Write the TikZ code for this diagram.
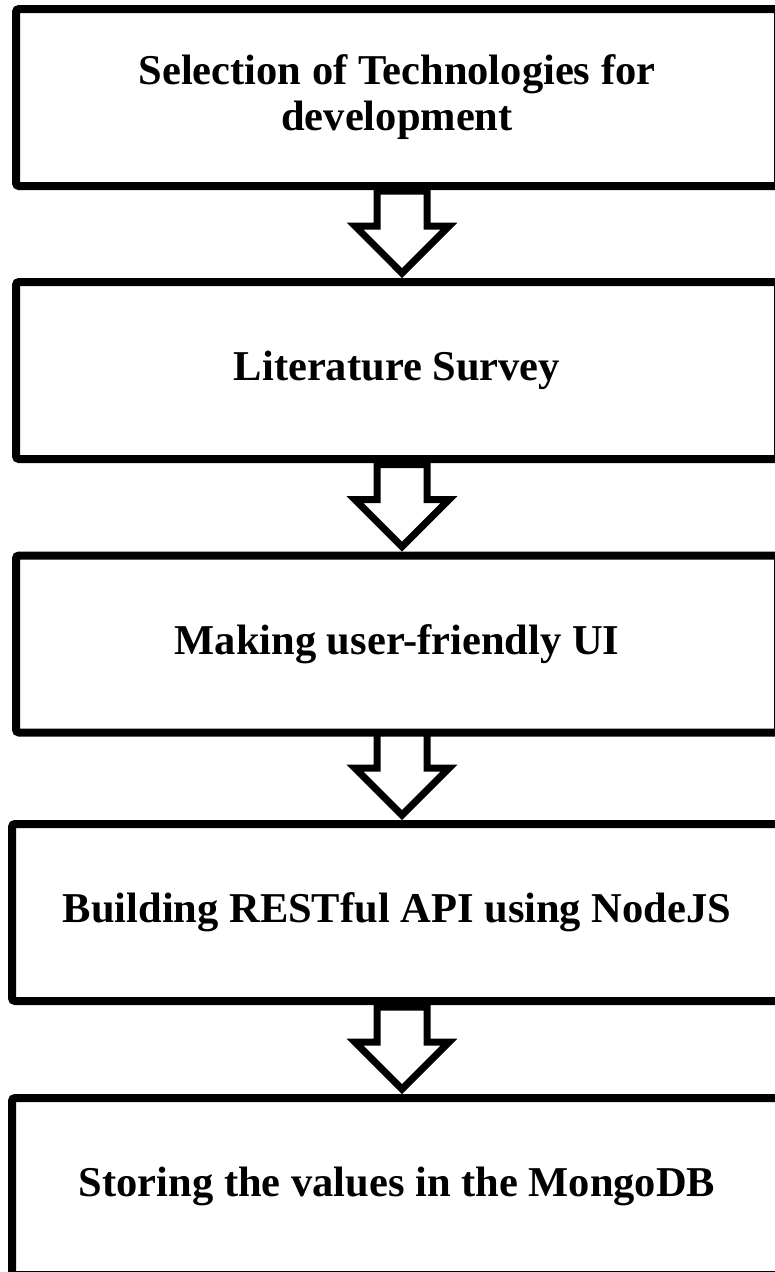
\documentclass[tikz,border=0pt]{standalone}
\usepackage{fontspec}
\setmainfont{Liberation Serif}
\usepackage{tikz}
\usetikzlibrary{shapes.arrows, positioning, calc}

\begin{document}
\begin{tikzpicture}[x=1pt, y=-1pt,
    stagebox/.style={draw=black, line width=8pt, rounded corners=3pt, minimum width=770, minimum height=177, align=center, inner sep=0pt, font=\fontsize{42.5}{46}\selectfont\bfseries},
    downarrow/.style={single arrow, draw=black, line width=7pt, fill=white, rotate=-90, inner sep=0pt, inner ysep=21.5pt, single arrow head extend=22pt, minimum height=82, anchor=tip}]
  \useasboundingbox (0,0) rectangle (775,1272);
  \clip (0,0) rectangle (775,1272);

  % Stages
  \node[stagebox, minimum width=762] (s1) at (397, 97.5) {Selection of Technologies for\\development};
  \node[stagebox, minimum width=762] (s2) at (397, 370.5) {Literature Survey};
  \node[stagebox, minimum width=762] (s3) at (397, 644) {Making user-friendly UI};
  \node[stagebox] (s4) at (397, 912.5) {Building RESTful API using NodeJS};
  \node[stagebox] (s5) at (397, 1186.5) {Storing the values in the MongoDB};

  % Block arrows between stages
  \node[downarrow] (a1) at ([xshift=5]s2.north) {};
  \node[downarrow] (a2) at ([xshift=5]s3.north) {};
  \node[downarrow] (a3) at ([xshift=5]s4.north) {};
  \node[downarrow] (a4) at ([xshift=5]s5.north) {};
\end{tikzpicture}
\end{document}
